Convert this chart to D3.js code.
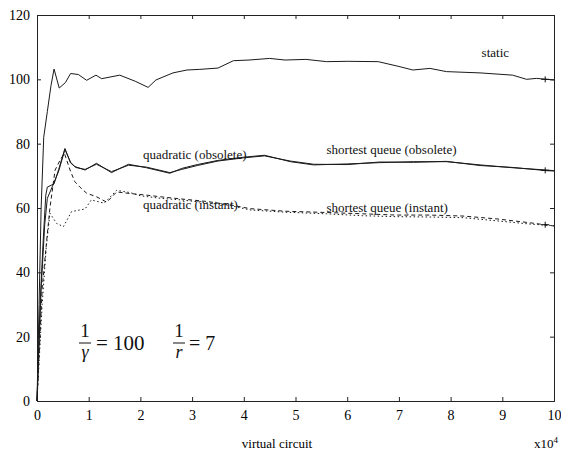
<!DOCTYPE html>
<html>
<head>
<meta charset="utf-8">
<script src="https://cdn.jsdelivr.net/npm/d3@7"></script>
<style>
  body { margin: 0; background: #fff; }
  svg { display: block; }
  .tick text { font-family: "Liberation Serif", serif; font-size: 14px; fill: #000; }
</style>
</head>
<body>
<div id="graph"></div>
<script>
// values (x in units of 10^4 virtual circuits)
const xTicks = [0, 1, 2, 3, 4, 5, 6, 7, 8, 9, 10];
const yTicks = [0, 20, 40, 60, 80, 100, 120];

const staticCurve = [[0,0],[0.04,30],[0.08,60],[0.13,82],[0.2,90],[0.27,98],[0.33,103.2],[0.43,97.3],[0.55,99],[0.65,101.8],[0.8,101.5],[0.96,99.7],[1.14,101.3],[1.25,100.2],[1.6,101.3],[1.9,99.4],[2.15,97.5],[2.3,99.8],[2.63,102],[2.9,102.9],[3.15,103.1],[3.5,103.5],[3.8,105.8],[4.1,106],[4.5,106.5],[4.8,106],[5.2,106.2],[5.6,105.5],[6.0,105.6],[6.6,105.5],[7.0,104],[7.27,102.9],[7.6,103.4],[7.92,102.4],[8.57,102],[9.2,101.3],[9.47,100],[9.66,100.3],[10,99.8]];

const quadObsolete = [[0,0],[0.06,30],[0.12,50],[0.17,64],[0.2,66.5],[0.33,67.5],[0.42,72],[0.54,78.5],[0.65,74],[0.73,72.9],[0.93,71.8],[1.15,73.9],[1.44,71],[1.77,73.6],[2.12,72.5],[2.57,70.8],[2.8,72.3],[3.1,73.5],[3.5,74.8],[4.0,75.8],[4.4,76.4],[4.9,74.4],[5.35,73.4],[6.0,73.7],[6.63,74.1],[7.28,74.4],[7.92,74.4],[8.57,73.4],[9.21,72.5],[9.86,71.8],[10,71.6]];

const shortObsolete = [[0,0],[0.08,35],[0.15,55],[0.2,63],[0.3,66.8],[0.42,71.5],[0.54,78.2],[0.65,74.2],[0.75,72.6],[0.93,72],[1.15,73.6],[1.44,71.3],[1.77,73.3],[2.12,72.7],[2.57,71],[2.8,72],[3.1,73.2],[3.5,74.6],[4.0,75.6],[4.4,76.2],[4.9,74.6],[5.35,73.6],[6.0,73.5],[6.63,74.3],[7.28,74.2],[7.92,74.5],[8.57,73.2],[9.21,72.6],[9.86,71.6],[10,71.5]];

const quadInstant = [[0,0],[0.1,35],[0.2,52],[0.25,60],[0.35,71.8],[0.45,75],[0.53,77],[0.64,71.8],[0.73,68.2],[0.83,66.5],[0.96,64.6],[1.15,63.5],[1.35,61.8],[1.54,65],[1.8,64.5],[2.12,64],[2.38,63.5],[2.8,62.8],[3.3,62],[3.73,61],[4.12,59.8],[4.8,59],[5.6,58.6],[6.3,58.2],[6.96,57.8],[7.6,57.8],[8.24,57.5],[8.9,56.6],[9.54,55.4],[10,54.4]];

const shortInstant = [[0,0],[0.1,30],[0.18,48],[0.25,58.4],[0.38,55.2],[0.51,54.2],[0.67,58.9],[0.93,59.7],[1.05,62.5],[1.3,61.5],[1.54,65.5],[1.8,64.8],[2.0,63.8],[2.4,63],[2.8,62.5],[3.3,61.6],[3.73,60.8],[4.12,59.4],[4.8,58.7],[5.6,58.2],[6.3,57.6],[6.96,57.3],[7.6,57.2],[8.24,57],[8.9,56],[9.54,55],[10,54.5]];

const endMarks = [[9.83,100],[9.83,71.7],[9.83,54.8]];

const curveLabels = [
  {text: "static", x: 8.6, y: 106.9},
  {text: "quadratic (obsolete)", x: 2.05, y: 75.1},
  {text: "shortest queue (obsolete)", x: 5.6, y: 76.8},
  {text: "quadratic (instant)", x: 2.05, y: 59.6},
  {text: "shortest queue (instant)", x: 5.6, y: 58.8}
];

const width = 561, height = 455;
const margin = {top: 15, right: 7, bottom: 54, left: 37};

const svg = d3.select("#graph").append("svg")
  .attr("width", width).attr("height", height)
  .style("background", "#fff");

const xScale = d3.scaleLinear().domain([0, 10]).range([margin.left, width - margin.right]);
const yScale = d3.scaleLinear().domain([0, 120]).range([height - margin.bottom, margin.top]);

// frame with inward ticks on all four sides
const xAxis = d3.axisBottom(xScale).tickValues(xTicks).tickSize(-4).tickPadding(9).tickFormat(d3.format("d"));
const yAxis = d3.axisLeft(yScale).tickValues(yTicks).tickSize(-4).tickPadding(7).tickFormat(d3.format("d"));

svg.append("g").attr("transform", `translate(0,${yScale(0)})`).call(xAxis);
svg.append("g").attr("transform", `translate(${xScale(0)},0)`).call(yAxis);
svg.append("g").attr("transform", `translate(0,${yScale(120)})`)
  .call(d3.axisTop(xScale).tickValues(xTicks).tickSize(-4).tickFormat(""));
svg.append("g").attr("transform", `translate(${xScale(10)},0)`)
  .call(d3.axisRight(yScale).tickValues(yTicks).tickSize(-4).tickFormat(""));

svg.selectAll(".domain, .tick line").attr("stroke", "#222").attr("stroke-width", 1);

let line = d3.line()
  .x(d => xScale(d[0]))
  .y(d => yScale(d[1]));

const series = [
  {data: staticCurve, dash: null},
  {data: quadObsolete, dash: null},
  {data: shortObsolete, dash: null},
  {data: quadInstant, dash: "4,3"},
  {data: shortInstant, dash: "1.5,2.5"}
];

series.forEach(s => {
  svg.append("path")
    .datum(s.data)
    .attr("d", line)
    .attr("fill", "none")
    .attr("stroke", "#1a1a1a")
    .attr("stroke-width", 1)
    .attr("stroke-dasharray", s.dash);
});

// small + marks near the right end of the curves
svg.append("g").selectAll("path").data(endMarks).enter().append("path")
  .attr("d", "M-4,0H4M0,-3V3")
  .attr("transform", d => `translate(${xScale(d[0])},${yScale(d[1])})`)
  .attr("fill", "none").attr("stroke", "#111").attr("stroke-width", 1);

// curve labels
svg.append("g").selectAll("text").data(curveLabels).enter().append("text")
  .attr("x", d => xScale(d.x))
  .attr("y", d => yScale(d.y))
  .attr("text-anchor", "start")
  .style("font-family", "Liberation Serif, serif")
  .style("font-size", "13px")
  .style("fill", "#111")
  .text(d => d.text);

// axis title and exponent
svg.append("text")
  .attr("x", 277).attr("y", 448)
  .attr("text-anchor", "middle")
  .style("font-family", "Liberation Serif, serif").style("font-size", "13px")
  .text("virtual circuit");

const expo = svg.append("text")
  .attr("x", 534).attr("y", 448)
  .style("font-family", "Liberation Serif, serif").style("font-size", "13px");
expo.append("tspan").text("x10");
expo.append("tspan").attr("dy", -5).style("font-size", "9px").text("4");

// parameter annotation: 1/gamma = 100, 1/r = 7
const ann = svg.append("g")
  .style("font-family", "Liberation Serif, serif")
  .style("fill", "#111");

function fraction(cx, denom) {
  ann.append("text").attr("x", cx).attr("y", 337).attr("text-anchor", "middle")
    .style("font-size", "19px").text("1");
  ann.append("line").attr("x1", cx - 6).attr("x2", cx + 6)
    .attr("y1", 343).attr("y2", 343).attr("stroke", "#111").attr("stroke-width", 1);
  ann.append("text").attr("x", cx).attr("y", 358).attr("text-anchor", "middle")
    .style("font-size", "18px").style("font-style", "italic").text(denom);
}
fraction(85, "γ");
ann.append("text").attr("x", 96).attr("y", 350).style("font-size", "21px").text("= 100");
fraction(179, "r");
ann.append("text").attr("x", 189).attr("y", 350).style("font-size", "20px").text("= 7");
</script>
</body>
</html>
